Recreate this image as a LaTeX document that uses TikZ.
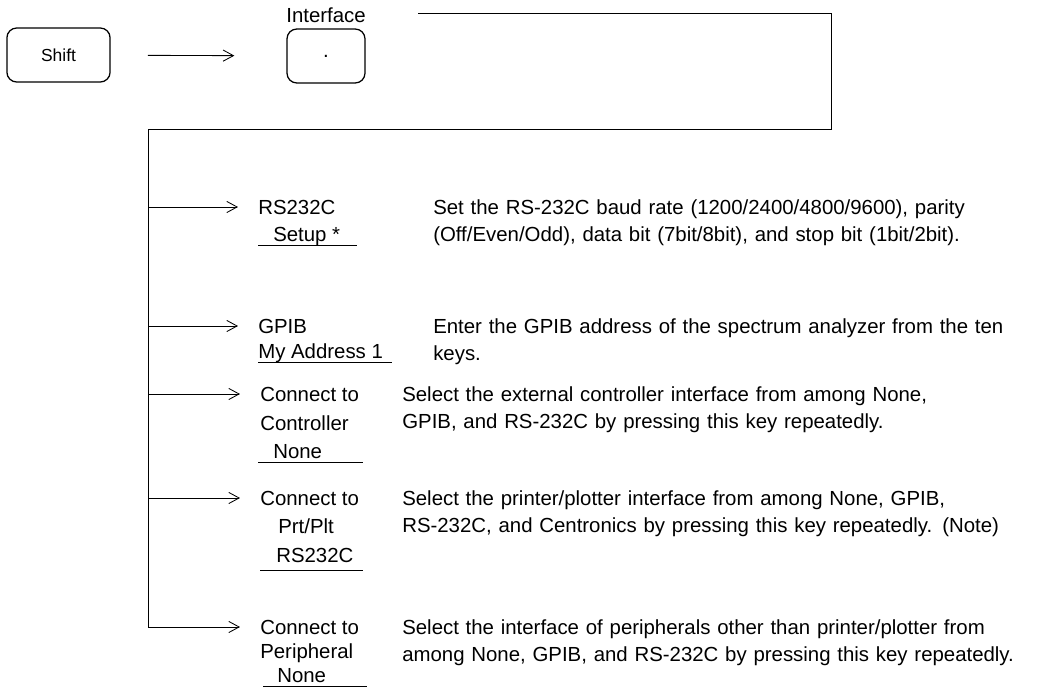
\documentclass[tikz,border=0pt]{standalone}
\usepackage{fontspec}
\setmainfont{Liberation Sans}
\usetikzlibrary{arrows.meta}
\tikzset{
  taste/.style={draw,line width=0.9pt,rounded corners=7pt,inner sep=0pt},
  linie/.style={line width=0.6pt},
  pfeil/.style={linie,-{Straight Barb[length=2.6mm,width=2.8mm,line width=0.6pt]},shorten >=0.5cm},
  menu/.style={anchor=base west,inner sep=0pt},
  erkl/.style={anchor=base west,inner sep=0pt,text width=16cm,align=left},
}
\begin{document}
\begin{tikzpicture}[x=0.025cm,y=-0.025cm,font=\fontsize{14.5pt}{19.9pt}\selectfont]
  \useasboundingbox (0,0) rectangle (1052,692);
  % Tasten oben
  \node[taste,minimum width=2.58cm,minimum height=1.35cm] (shift) at (58.5,55) {\fontsize{12.4pt}{14pt}\selectfont Shift};
  \node[taste,minimum width=1.95cm,minimum height=1.35cm] (iface) at (326,56) {.};
  \node[menu,anchor=base] (ilabel) at (326,22) {Interface};
  \draw[pfeil,shorten <=0.925cm,shorten >=1.3cm] (shift) -- (iface);
  \coordinate (top) at (418,13);
  \coordinate (lt) at (148,129);
  % Softkeys
  \node[menu] (rs)  at (258,214) {RS232C};
  \node[menu] (rsv) at (273,241) {Setup *};
  \node[menu] (gp)  at (258,333) {GPIB};
  \node[menu] (gpv) at (258,358) {My Address 1};
  \node[menu] (cc)  at (260,401) {Connect to};
  \node[menu] (ccb) at (260,430) {Controller};
  \node[menu] (ccv) at (273,458) {None};
  \node[menu] (cp)  at (260,505) {Connect to};
  \node[menu] (cpb) at (278,533) {Prt/Plt};
  \node[menu] (cpv) at (276,562) {RS232C};
  \node[menu] (ph)  at (260,634) {Connect to};
  \node[menu] (phb) at (260,658) {Peripheral};
  \node[menu] (phv) at (277,682) {None};
  % Unterstriche
  \draw[linie] (258,245) -- (357,245);
  \draw[linie] (258,362) -- (392,362);
  \draw[linie] (258,462) -- (363,462);
  \draw[linie] (260,570) -- (363,570);
  \draw[linie] (263,686) -- (367,686);
  % Erklaerungen
  \node[erkl] (drs) at (433,214) {Set the RS-232C baud rate (1200/2400/4800/9600), parity\\(Off/Even/Odd), data bit (7bit/8bit), and stop bit (1bit/2bit).};
  \node[erkl] (dgp) at (433,333) {Enter the GPIB address of the spectrum analyzer from the ten\\keys.};
  \node[erkl] (dcc) at (402,401) {Select the external controller interface from among None,\\GPIB, and RS-232C by pressing this key repeatedly.};
  \node[erkl] (dcp) at (402,505) {Select the printer/plotter interface from among None, GPIB,\\RS-232C, and Centronics by pressing this key repeatedly. (Note)};
  \node[erkl] (dph) at (402,634) {Select the interface of peripherals other than printer/plotter from\\among None, GPIB, and RS-232C by pressing this key repeatedly.};
  % Verbindungen
  \draw[pfeil] (top) -| (831,129) -- (lt) |- (ph.west);
  \draw[pfeil] (lt |- rs.west) -- (rs.west);
  \draw[pfeil] (lt |- gp.west) -- (gp.west);
  \draw[pfeil] (lt |- cc.west) -- (cc.west);
  \draw[pfeil] (lt |- cp.west) -- (cp.west);
\end{tikzpicture}
\end{document}
